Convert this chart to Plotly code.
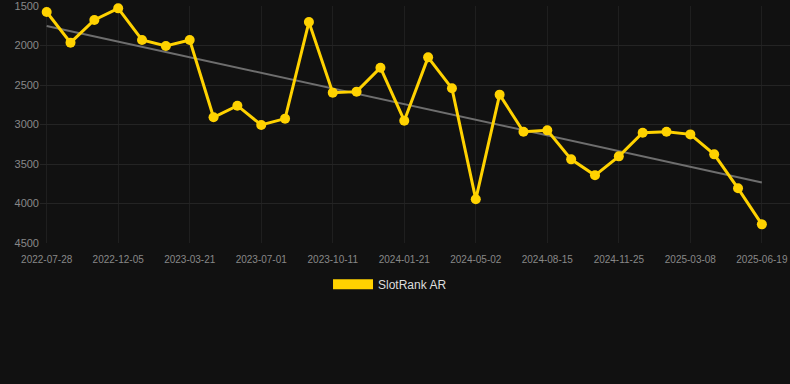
import numpy as np
import plotly.graph_objects as go

tick_labels = ["2022-07-28", "2022-12-05", "2023-03-21", "2023-07-01", "2023-10-11",
               "2024-01-21", "2024-05-02", "2024-08-15", "2024-11-25", "2025-03-08",
               "2025-06-19"]
rank_values = [1576, 1964, 1677, 1530, 1930, 2006, 1930, 2909, 2762, 3006, 2926,
               1703, 2597, 2584, 2281, 2952, 2150, 2542, 3947, 2622, 3091, 3074,
               3441, 3643, 3403, 3104, 3091, 3125, 3378, 3808, 4264]
y_ticks = [1500, 2000, 2500, 3000, 3500, 4000, 4500]
series_name = "SlotRank AR"

idx = np.arange(len(rank_values))
coef = np.polyfit(idx, rank_values, 1)
trend = np.polyval(coef, idx)

BG = "#111111"
GOLD = "#FFD200"

fig = go.Figure()
fig.add_trace(go.Scatter(
    x=idx, y=trend, mode="lines",
    line=dict(color="#6e6e6e", width=2),
    showlegend=False, hoverinfo="skip", cliponaxis=False))
fig.add_trace(go.Scatter(
    x=idx, y=rank_values, mode="lines+markers",
    line=dict(color=GOLD, width=3),
    marker=dict(color=GOLD, size=10),
    showlegend=False, cliponaxis=False))
fig.add_trace(go.Scatter(
    x=[None], y=[None], mode="lines", name=series_name,
    line=dict(color=GOLD, width=12), showlegend=True))

fig.update_layout(
    width=790, height=384,
    paper_bgcolor=BG, plot_bgcolor=BG,
    margin=dict(l=40, r=0, t=6, b=141),
    font=dict(family="Liberation Sans, Arial, sans-serif", color="#888888"),
    xaxis=dict(
        range=[-0.28, 31.18],
        tickvals=list(idx[::3]), ticktext=tick_labels,
        showgrid=True, gridcolor="#1f1f1f", gridwidth=1,
        zeroline=False, showline=False,
        ticks="outside", ticklen=7, tickcolor=BG,
        tickfont=dict(size=10, color="#888888"),
        ticklabeloverflow="allow",
    ),
    yaxis=dict(
        range=[4500, 1500], tickvals=y_ticks,
        showgrid=True, gridcolor="#242424", gridwidth=1,
        zeroline=False, showline=False,
        tickfont=dict(size=11, color="#888888"),
        ticklabeloverflow="allow",
    ),
    legend=dict(
        orientation="h", xref="container", yref="container",
        x=0.4937, xanchor="center", y=0.26, yanchor="middle",
        font=dict(size=12, color="#dddddd"),
        itemwidth=40, bgcolor="rgba(0,0,0,0)",
    ),
    showlegend=True,
)

fig.write_html(
    "out.html",
    config={"displayModeBar": False},
    post_script="document.body.style.margin='0';document.body.style.background='#111111';",
)
